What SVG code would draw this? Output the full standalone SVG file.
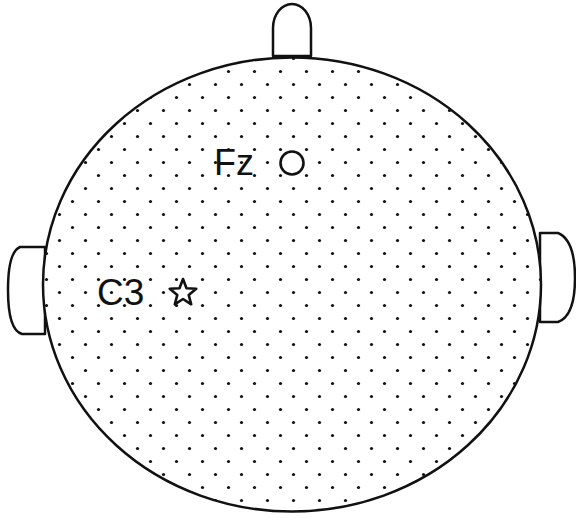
<svg xmlns="http://www.w3.org/2000/svg" width="576" height="518" viewBox="0 0 576 518">
  <style>
    .line { fill: #fff; stroke: #111; stroke-width: 2.5; stroke-linejoin: round; }
    .lbl { font-family: "Liberation Sans", Arial, sans-serif; fill: #111; }
    .mark { fill: #fff; stroke: #111; stroke-width: 2.6; stroke-linejoin: round; }
  </style>
  <defs>
    <pattern id="dots" patternUnits="userSpaceOnUse" width="26" height="26">
      <rect width="26" height="26" fill="#fff"/>
      <circle cx="7.5" cy="6.5" r="1.6" fill="#111"/>
      <circle cx="20.5" cy="19.5" r="1.6" fill="#111"/>
    </pattern>
  </defs>
  <rect width="576" height="518" fill="#fff"/>
  <g id="nose">
    <path class="line" d="M273,56 L273,28 A19,24 0 0 1 311,28 L311,56 Z"/>
  </g>
  <g id="left-ear">
    <path class="line" d="M45,247 L20,247 Q8,252 8,290 Q8,330 22,334 L45,334 Z"/>
  </g>
  <g id="right-ear">
    <path class="line" d="M540,233 L558,233 Q575,240 575,278 Q575,316 558,322 L540,322 Z"/>
  </g>
  <g id="head">
    <ellipse cx="292" cy="284.5" rx="249" ry="227" fill="url(#dots)" stroke="#111" stroke-width="2.5"/>
  </g>
  <g id="Fz">
    <text class="lbl" x="214" y="175" font-size="36">Fz</text>
    <circle class="mark" cx="292" cy="163" r="11.5"/>
  </g>
  <g id="C3">
    <text class="lbl" x="97" y="305" font-size="37">C3</text>
    <polygon class="mark" points="183,279 186.5,288.2 196.3,288.7 188.7,294.9 191.2,304.3 183,299 174.8,304.3 177.3,294.9 169.7,288.7 179.5,288.2"/>
  </g>
  <g id="connectors"></g>
</svg>
